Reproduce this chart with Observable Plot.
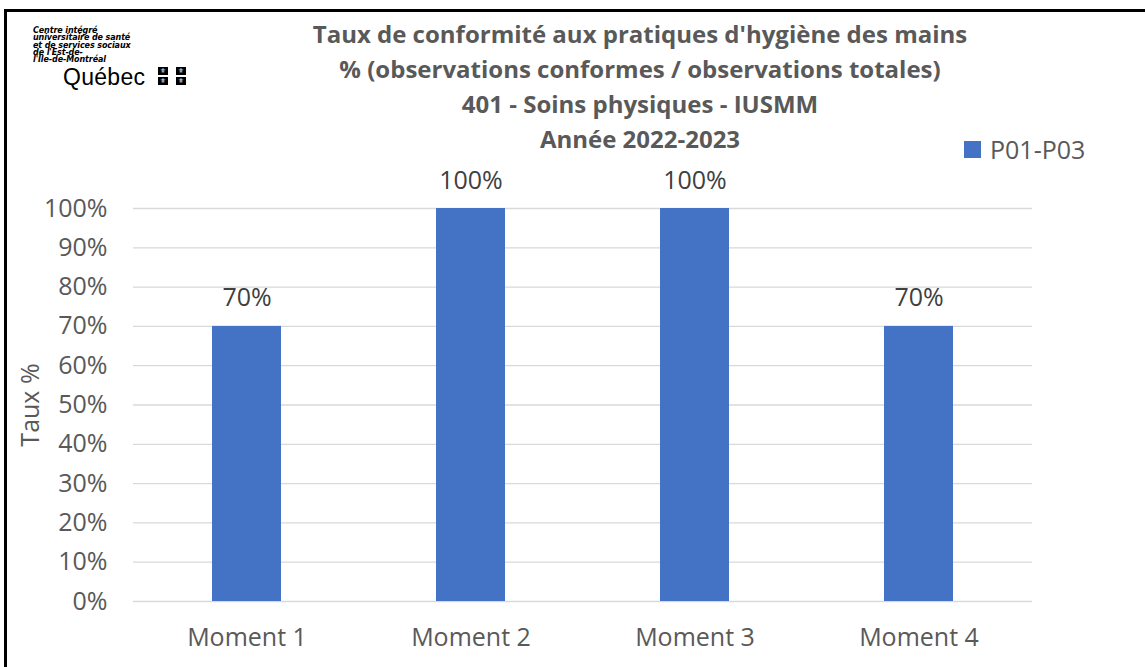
<!DOCTYPE html>
<html>
<head>
<meta charset="utf-8">
<script src="https://cdn.jsdelivr.net/npm/d3@7"></script>
<script src="https://cdn.jsdelivr.net/npm/@observablehq/plot@0.6"></script>
<style>
  body { margin: 0; background: #fff; }
  #wrap { position: relative; width: 1145px; height: 667px; overflow: hidden; font-family: "Open Sans", sans-serif; }
  #wrap svg { position: absolute; left: 0; top: 0; }
  .border-top { position: absolute; left: 4px; top: 9px; width: 1141px; height: 2.5px; background: #000; }
  .border-left { position: absolute; left: 4px; top: 9px; width: 2.5px; height: 658px; background: #000; }
  .title { position: absolute; left: 190px; width: 900px; text-align: center; font-weight: 700; font-size: 24px; color: #595959; line-height: 35px; top: 16px; }
  .logo { position: absolute; left: 33px; top: 27px; font-size: 8px; font-weight: 700; font-style: italic; line-height: 7.3px; color: #000; font-family: "DejaVu Sans", sans-serif; letter-spacing: -0.1px; }
  .quebec { position: absolute; left: 63px; top: 66px; font-size: 23px; line-height: 22px; color: #000; font-family: "Liberation Sans", sans-serif; letter-spacing: 0.3px; }
  .flag { position: absolute; width: 10px; height: 8px; background: #000; color: #fff; font-size: 7px; line-height: 8px; text-align: center; font-family: "DejaVu Sans"; }
  .legend { position: absolute; left: 964px; top: 132px; font-size: 25px; color: #595959; display: flex; align-items: center; }
  .legend .sw { width: 17px; height: 17px; background: #4472C4; margin-right: 9px; }
</style>
</head>
<body>
<div id="wrap">
</div>
<script>
const categories = ["Moment 1", "Moment 2", "Moment 3", "Moment 4"];
const values = [70, 100, 100, 70];
const labels = ["70%", "100%", "100%", "70%"];
const yTicks = [0, 10, 20, 30, 40, 50, 60, 70, 80, 90, 100];
const series = "P01-P03";
const titleLines = [
  "Taux de conformité aux pratiques d'hygiène des mains",
  "% (observations conformes / observations totales)",
  "401 - Soins physiques - IUSMM",
  "Année 2022-2023"
];
const logoLines = ["Centre intégré", "universitaire de santé", "et de services sociaux", "de l'Est-de-", "l'Île-de-Montréal"];

const data = categories.map((c, i) => ({category: c, value: values[i], label: labels[i]}));

const chart = Plot.plot({
  width: 1145,
  height: 667,
  marginLeft: 133,
  marginRight: 113,
  marginTop: 208,
  marginBottom: 66,
  style: {fontFamily: "Open Sans, sans-serif", fontSize: "25px", color: "#595959", background: "transparent"},
  x: {domain: categories, paddingInner: 0.69, paddingOuter: 0.345, label: null},
  y: {domain: [0, 100], ticks: yTicks, tickFormat: d => d + "%", label: null},
  marks: [
    Plot.gridY(yTicks, {stroke: "#d9d9d9", strokeOpacity: 1, strokeWidth: 1.3}),
    Plot.barY(data, {x: "category", y: "value", fill: "#4472C4"}),
    Plot.text(data, {x: "category", y: "value", text: "label", dy: -28, fontSize: 25, fill: "#404040"}),
    Plot.axisY({ticks: yTicks, tickFormat: d => d + "%", tickSize: 0, tickPadding: 26, fontSize: 25, fill: "#595959", label: null}),
    Plot.axisX({tickSize: 0, tickPadding: 27, fontSize: 25, fill: "#595959", label: null}),
    Plot.text(["Taux %"], {frameAnchor: "left", textAnchor: "middle", dx: -103, rotate: -90, fontSize: 25, fill: "#595959"})
  ]
});

const wrap = document.getElementById("wrap");
wrap.appendChild(chart);

const add = (cls, html, style) => {
  const d = document.createElement("div");
  d.className = cls;
  if (html != null) d.innerHTML = html;
  if (style) Object.assign(d.style, style);
  wrap.appendChild(d);
  return d;
};
add("border-top");
add("border-left");
add("title", titleLines.join("<br>"));
add("logo", logoLines.join("<br>"));
add("quebec", "Québec");
[[158, 67], [176, 67], [158, 77], [176, 77]].forEach(([x, y]) => add("flag", "⚜", {left: x + "px", top: y + "px"}));
add("legend", `<div class="sw"></div><span>${series}</span>`);
</script>
</body>
</html>
